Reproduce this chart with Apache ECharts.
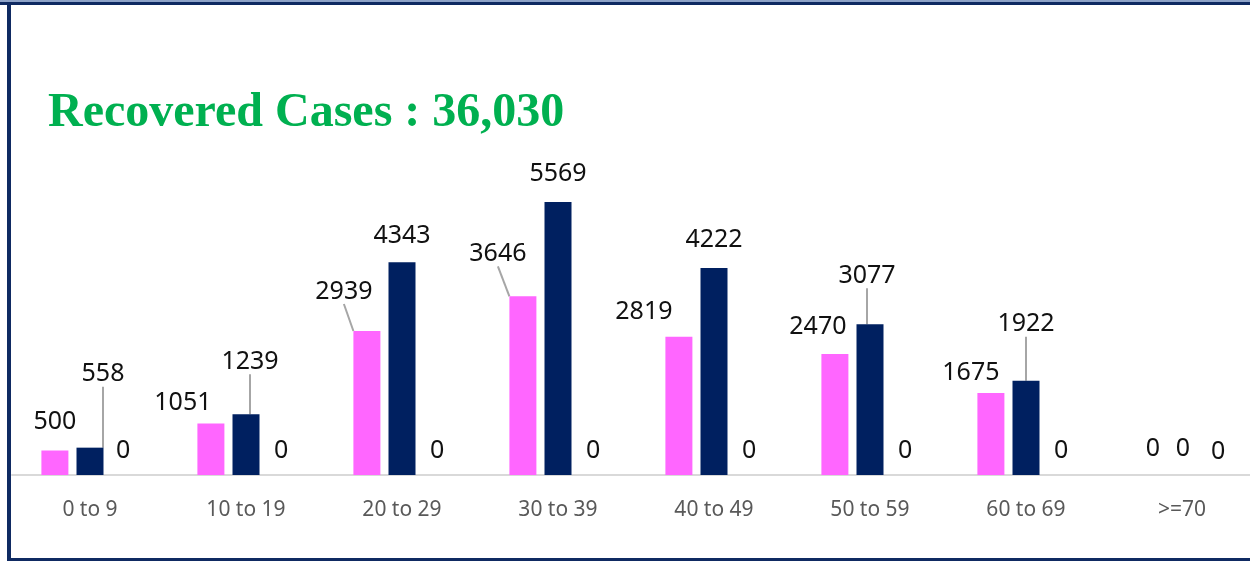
<!DOCTYPE html>
<html>
<head>
<meta charset="utf-8">
<script src="https://cdn.jsdelivr.net/npm/echarts@6/dist/echarts.min.js"></script>
<style>
  html, body { margin: 0; padding: 0; background: #fff; }
  #chart { width: 1250px; height: 561px; }
</style>
</head>
<body>
<div id="chart"></div>
<script>
// age groups on the x axis
const ageGroups = ['0 to 9', '10 to 19', '20 to 29', '30 to 39', '40 to 49', '50 to 59', '60 to 69', '>=70'];
// recovered cases per group
const femaleValues = [500, 1051, 2939, 3646, 2819, 2470, 1675, 0];
const maleValues = [558, 1239, 4343, 5569, 4222, 3077, 1922, 0];
const otherValues = [0, 0, 0, 0, 0, 0, 0, 0];
const titleText = 'Recovered Cases : 36,030';

// label nudges (px) like the excel labels, and which ones get a leader line
const femaleShift = [[0, -4], [-28, 4], [-23, -15], [-25, -18], [-35, 0], [-17, -3], [-20, 4], [6, -2]];
const maleShift = [[13, -49], [4, -28], [0, -2], [0, -4], [0, -4], [-3, -24], [0, -32], [1, -2]];
const otherShift = [[-2, 0], [0, 0], [0, 0], [0, 0], [0, 0], [0, 0], [0, 0], [1, 1]];
const femaleLeader = [false, false, true, true, false, false, false, false];
const maleLeader = [true, true, false, false, false, true, true, false];

const chart = echarts.init(document.getElementById('chart'));

function makeData(values, leaders) {
  return values.map((v, i) => ({
    value: v,
    labelLine: { show: !!(leaders && leaders[i]) }
  }));
}

// move label off its default spot; echarts draws the leader line to the bar
function shiftLayout(shifts) {
  return function (params) {
    const r = params.labelRect;
    const s = shifts[params.dataIndex] || [0, 0];
    return {
      x: r.x + r.width / 2 + s[0],
      y: r.y + r.height / 2 + s[1],
      align: 'center',
      verticalAlign: 'middle'
    };
  };
}

const labelStyle = {
  show: true,
  position: 'top',
  distance: 12,
  color: '#111',
  fontFamily: 'Noto Sans',
  fontSize: 25
};
const leaderStyle = { lineStyle: { color: '#a6a6a6', width: 2 } };

chart.setOption({
  animation: false,
  title: {
    text: titleText,
    left: 43,
    top: 85,
    textStyle: { fontFamily: 'Liberation Serif', fontWeight: 'bold', fontSize: 48, color: '#00b050' }
  },
  // last category runs past the right edge, like the cropped original
  grid: { left: 12, width: 1248, top: 83, bottom: 86, outerBoundsMode: 'none', containLabel: false },
  xAxis: {
    type: 'category',
    data: ageGroups,
    axisLine: { lineStyle: { color: '#d9d9d9', width: 2 } },
    axisTick: { show: false },
    axisLabel: { color: '#595959', fontFamily: 'Noto Sans', fontSize: 21, margin: 25 }
  },
  yAxis: {
    type: 'value',
    min: 0,
    max: 8000,
    show: false,
    splitLine: { show: false }
  },
  series: [
    {
      name: 'Female',
      type: 'bar',
      data: makeData(femaleValues, femaleLeader),
      barWidth: 27,
      barGap: '30%',
      itemStyle: { color: '#ff66ff' },
      label: labelStyle,
      labelLine: leaderStyle,
      labelLayout: shiftLayout(femaleShift)
    },
    {
      name: 'Male',
      type: 'bar',
      data: makeData(maleValues, maleLeader),
      barWidth: 27,
      barGap: '30%',
      itemStyle: { color: '#002060' },
      label: labelStyle,
      labelLine: leaderStyle,
      labelLayout: shiftLayout(maleShift)
    },
    {
      name: 'Other',
      type: 'bar',
      data: makeData(otherValues, null),
      barWidth: 27,
      barGap: '30%',
      itemStyle: { color: '#00b050' },
      label: labelStyle,
      labelLayout: shiftLayout(otherShift)
    }
  ],
  // frame: top, left and bottom edges
  graphic: [
    { type: 'rect', shape: { x: 0, y: 0, width: 1250, height: 2 }, style: { fill: '#8ea3c8' } },
    { type: 'rect', shape: { x: 0, y: 2, width: 1250, height: 3 }, style: { fill: '#0f2a62' } },
    { type: 'rect', shape: { x: 7, y: 2, width: 4, height: 559 }, style: { fill: '#0f2a62' } },
    { type: 'rect', shape: { x: 7, y: 558, width: 1243, height: 3 }, style: { fill: '#0f2a62' } }
  ]
});
</script>
</body>
</html>
